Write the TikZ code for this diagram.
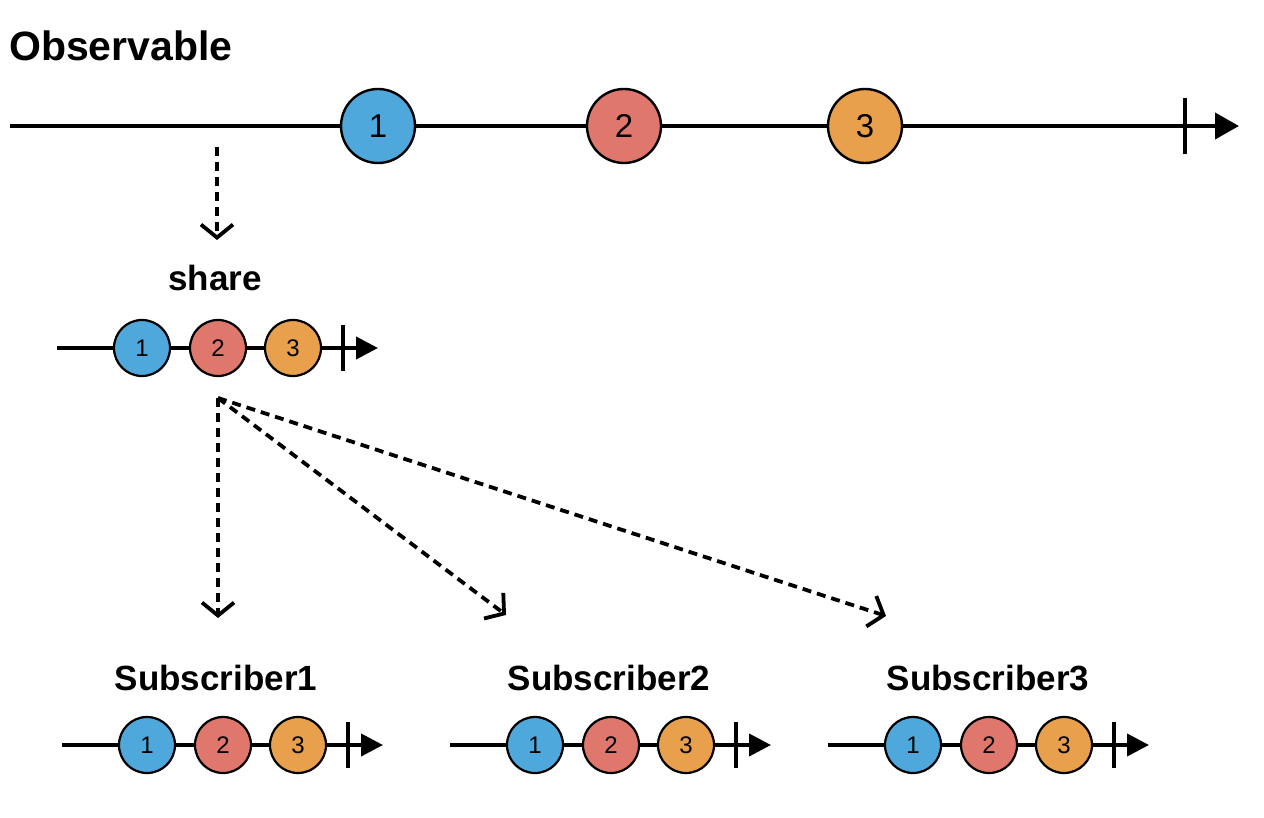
\documentclass[tikz,border=0pt]{standalone}
\usepackage{fontspec}
\setmainfont{Liberation Sans}
\usetikzlibrary{arrows.meta}
\definecolor{cblue}{HTML}{4FA8DC}
\definecolor{cred}{HTML}{E0776D}
\definecolor{corange}{HTML}{E8A04C}
\tikzset{
  timeline/.style={line width=4pt},
  bigball/.style={circle, draw=black, line width=2.4pt, minimum size=74pt, inner sep=0pt, font=\fontsize{33}{33}\selectfont},
  smallball/.style={circle, draw=black, line width=2.2pt, minimum size=56pt, inner sep=0pt, font=\fontsize{24}{24}\selectfont},
  endtick/.style={line width=4pt},
  tip/.style={-{Triangle[length=24pt,width=26pt]}},
  smalltip/.style={-{Triangle[length=22pt,width=22pt]}},
  flow/.style={line width=3.8pt, dash pattern=on 9pt off 6pt, -{Straight Barb[length=13pt,width=32pt,line width=3.8pt]}},
  title/.style={font=\fontsize{41}{41}\selectfont\bfseries},
  label/.style={font=\fontsize{35}{35}\selectfont\bfseries},
}
\newcommand{\marblerow}[3]{%
  \draw[timeline, smalltip] (#1+0,#2) -- (#1+321,#2);
  \draw[endtick] (#1+286,#2-23) -- (#1+286,#2+23);
  \node[smallball, fill=cblue] (#3a) at (#1+85,#2) {1};
  \node[smallball, fill=cred] (#3b) at (#1+161,#2) {2};
  \node[smallball, fill=corange] (#3c) at (#1+236,#2) {3};
}
\begin{document}
\begin{tikzpicture}[x=1pt,y=-1pt]
\useasboundingbox (0,0) rectangle (1264,818);
% Observable
\node[title, anchor=west, inner sep=0pt] (obst) at (9,46) {Observable};
\coordinate (o0) at (10,126);
\coordinate (oend) at (1239,126);
\draw[timeline, tip] (o0) -- (oend);
\draw[endtick] (1185,98) -- (1185,154);
\node[bigball, fill=cblue] (b1) at (378,126) {1};
\node[bigball, fill=cred] (b2) at (624,126) {2};
\node[bigball, fill=corange] (b3) at (865,126) {3};
% share
\coordinate (sfrom) at (217,147);
\coordinate (sto) at (217,240);
\draw[flow] (sfrom) -- (sto);
\node[label] (sharet) at (215,278) {share};
\marblerow{57}{348}{sh}
% subscribers
\node[label] (s1t) at (216,678) {Subscriber1};
\node[label] (s2t) at (609,678) {Subscriber2};
\node[label] (s3t) at (988,678) {Subscriber3};
\marblerow{62}{745}{sa}
\marblerow{450}{745}{sb}
\marblerow{828}{745}{sc}
\coordinate (src) at (218,398);
\coordinate (t1) at (218,618);
\coordinate (t2) at (506,615);
\coordinate (t3) at (886,616);
\draw[flow] (src) -- (t1);
\draw[flow] (src) -- (t2);
\draw[flow] (src) -- (t3);
\end{tikzpicture}
\end{document}
